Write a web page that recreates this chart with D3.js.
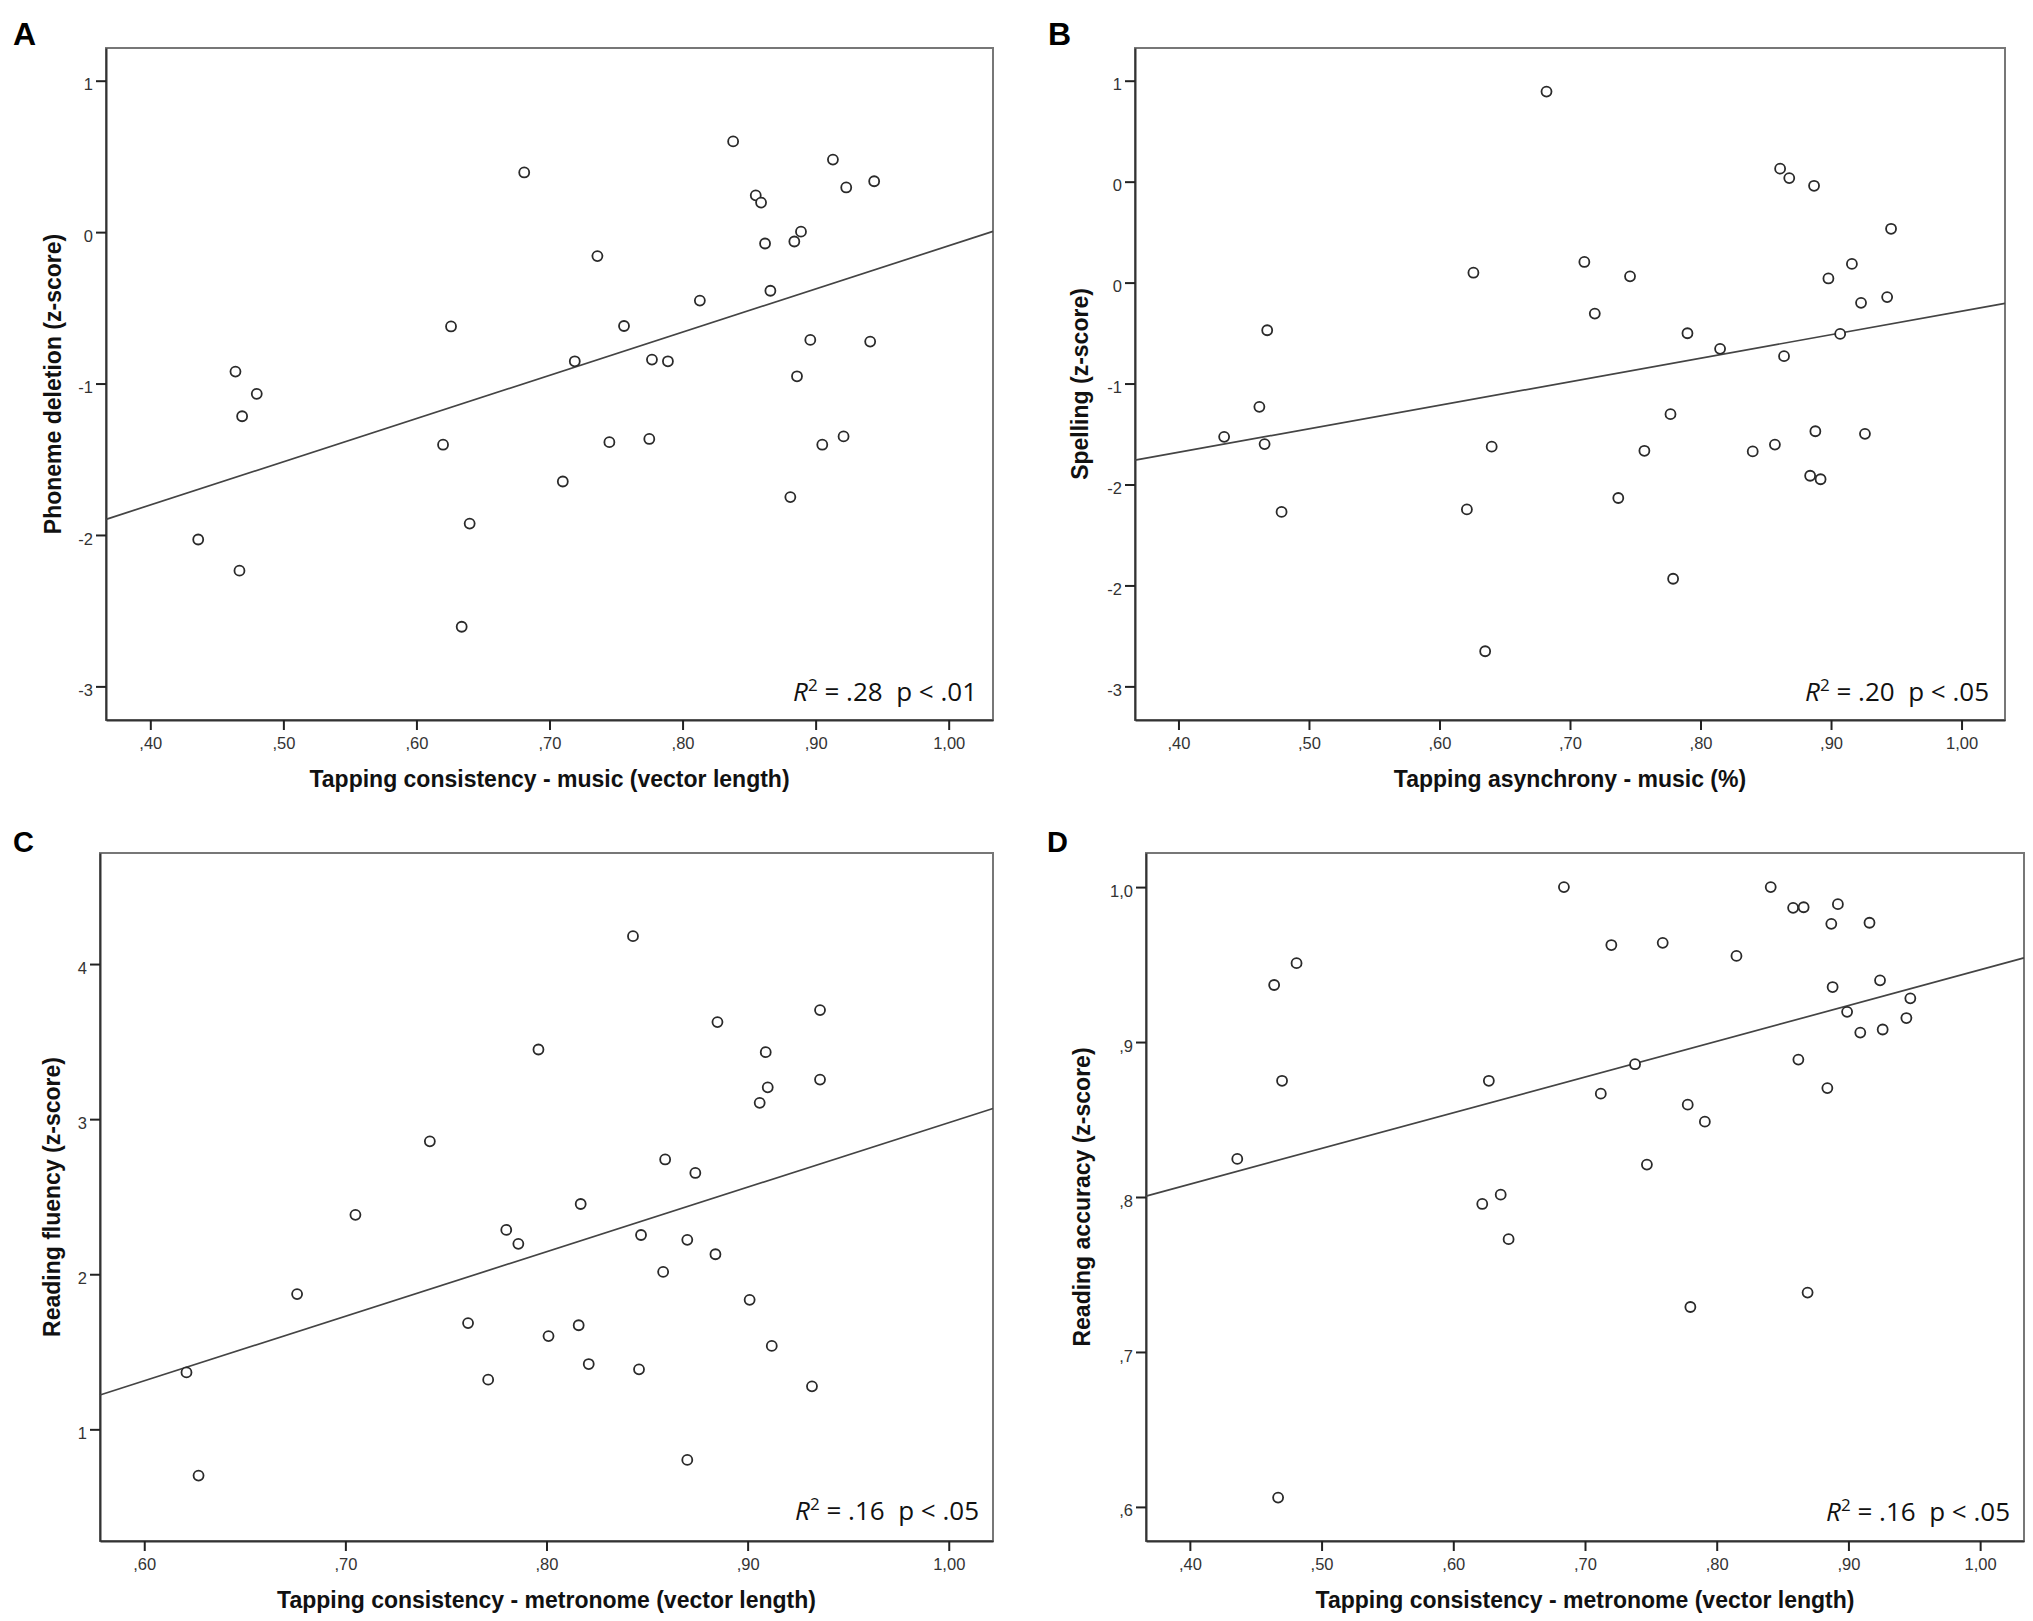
<!DOCTYPE html>
<html>
<head>
<meta charset="utf-8">
<script src="https://cdn.jsdelivr.net/npm/d3@7/dist/d3.min.js"></script>
<style>
    body { margin: 0; background: #fff; }
    .tick text { font-family: "Liberation Sans", Arial, sans-serif; font-size: 16.5px; fill: #333; }
    .tick line { stroke: #222; stroke-width: 2px; }
    .domain { stroke: #333; stroke-width: 2px; }
    .frame { fill: none; stroke: #777; stroke-width: 2px; }
    .dot { fill: #fff; stroke: #2a2a2a; stroke-width: 1.8px; }
    .fit { stroke: #444; stroke-width: 1.7px; fill: none; }
    .title { font-family: "Liberation Sans", Arial, sans-serif; font-weight: bold; font-size: 23px; fill: #111; }
    .letter { font-family: "Liberation Sans", Arial, sans-serif; font-weight: bold; fill: #000; }
    .stat { font-family: "Open Sans", Lato, sans-serif; font-size: 26px; fill: #111; white-space: pre; }
</style>
</head>
<body>
<svg id="fig"></svg>
<script>
// panel A: phoneme deletion vs tapping consistency (music)
var aX = [0.436, 0.467, 0.464, 0.469, 0.480, 0.620, 0.626, 0.634, 0.640, 0.681, 0.710, 0.719,
    0.736, 0.745, 0.756, 0.775, 0.777, 0.789, 0.813, 0.838, 0.855, 0.859, 0.862, 0.866,
    0.881, 0.884, 0.889, 0.886, 0.896, 0.905, 0.913, 0.921, 0.923, 0.941, 0.944];
var aY = [-2.03, -2.236, -0.921, -1.216, -1.068, -1.404, -0.623, -2.606, -1.925, 0.394, -1.647, -0.853,
    -0.158, -1.387, -0.62, -1.366, -0.842, -0.853, -0.452, 0.599, 0.243, 0.195, -0.075, -0.387,
    -1.75, -0.062, 0.003, -0.952, -0.712, -1.404, 0.479, -1.349, 0.295, -0.723, 0.336];

// panel B: spelling vs tapping asynchrony (music)
var bX = [0.682, 0.861, 0.868, 0.887, 0.946, 0.711, 0.626, 0.746, 0.916, 0.898, 0.943, 0.923,
    0.719, 0.468, 0.790, 0.907, 0.815, 0.864, 0.462, 0.777, 0.435, 0.888, 0.926, 0.466,
    0.857, 0.640, 0.757, 0.840, 0.884, 0.892, 0.737, 0.621, 0.479, 0.779, 0.635];
var bY = [0.928, 0.419, 0.357, 0.306, 0.022, -0.197, -0.268, -0.292, -0.210, -0.306, -0.429, -0.467,
    -0.538, -0.648, -0.668, -0.672, -0.771, -0.819, -1.154, -1.202, -1.352, -1.315, -1.332, -1.40,
    -1.403, -1.417, -1.444, -1.448, -1.609, -1.632, -1.756, -1.831, -1.848, -2.289, -2.768];

// panel C: reading fluency vs tapping consistency (metronome)
var cX = [0.843, 0.936, 0.885, 0.796, 0.909, 0.936, 0.910, 0.906, 0.742, 0.859, 0.874, 0.817,
    0.705, 0.780, 0.786, 0.847, 0.870, 0.884, 0.858, 0.676, 0.901, 0.761, 0.816, 0.801,
    0.912, 0.821, 0.846, 0.621, 0.771, 0.932, 0.870, 0.627];
var cY = [4.18, 3.703, 3.626, 3.449, 3.432, 3.255, 3.205, 3.105, 2.857, 2.74, 2.653, 2.453,
    2.383, 2.286, 2.196, 2.253, 2.222, 2.129, 2.015, 1.872, 1.835, 1.685, 1.671, 1.601,
    1.538, 1.421, 1.387, 1.367, 1.32, 1.277, 0.803, 0.702];

// panel D: reading accuracy vs tapping consistency (metronome)
var dX = [0.684, 0.841, 0.858, 0.866, 0.892, 0.887, 0.916, 0.720, 0.759, 0.815, 0.481, 0.464,
    0.924, 0.888, 0.947, 0.899, 0.944, 0.909, 0.926, 0.738, 0.862, 0.470, 0.627, 0.884,
    0.712, 0.778, 0.791, 0.436, 0.747, 0.636, 0.622, 0.642, 0.869, 0.780, 0.467];
var dY = [1.0, 1.0, 0.9866, 0.987, 0.989, 0.9763, 0.977, 0.9626, 0.964, 0.9556, 0.9509, 0.9368,
    0.9398, 0.9355, 0.9282, 0.9195, 0.9155, 0.9061, 0.9081, 0.8857, 0.8887, 0.875, 0.875, 0.8703,
    0.8667, 0.8596, 0.8486, 0.8246, 0.8209, 0.8015, 0.7955, 0.7728, 0.7383, 0.729, 0.606];

// linear fit lines, one per panel (A, B, C, D)
var fitIntercept = [-2.943, -2.076, -1.183, 0.716];
var fitSlope = [2.853, 1.554, 4.16, 0.2306];

// axis ranges and ticks
var xDomainWide = [0.3667, 1.0333];
var xDomainC = [0.578, 1.022];
var zDomain = [-3.222, 1.216];
var yDomainC = [0.28, 4.716];
var yDomainD = [0.578, 1.022];

var xTicksWide = [0.4, 0.5, 0.6, 0.7, 0.8, 0.9, 1.0];
var xTickLabelsWide = [",40", ",50", ",60", ",70", ",80", ",90", "1,00"];
var xTicksC = [0.6, 0.7, 0.8, 0.9, 1.0];
var xTickLabelsC = [",60", ",70", ",80", ",90", "1,00"];
var yTicksA = [1, 0, -1, -2, -3];
var yTickLabelsA = ["1", "0", "-1", "-2", "-3"];
var yTicksB = [1, 0.3333, -0.3333, -1, -1.6667, -2.3333, -3];
var yTickLabelsB = ["1", "0", "0", "-1", "-2", "-2", "-3"];
var yTicksC = [1, 2, 3, 4];
var yTickLabelsC = ["1", "2", "3", "4"];
var yTicksD = [0.6, 0.7, 0.8, 0.9, 1.0];
var yTickLabelsD = [",6", ",7", ",8", ",9", "1,0"];

var panelLetters = ["A", "B", "C", "D"];
var xTitles = ["Tapping consistency - music (vector length)",
    "Tapping asynchrony - music (%)",
    "Tapping consistency - metronome (vector length)",
    "Tapping consistency - metronome (vector length)"];
var yTitles = ["Phoneme deletion (z-score)", "Spelling (z-score)",
    "Reading fluency (z-score)", "Reading accuracy (z-score)"];
var r2Values = [".28", ".20", ".16", ".16"];
var pValues = ["< .01", "< .05", "< .05", "< .05"];

// layout of each panel on the page
var boxes = [
    {x0: 106, x1: 993, y0: 48, y1: 720, letterX: 13, letterY: 45, letterSize: 32, yTitleX: 61, statDx: 16, statDy: 19},
    {x0: 1135, x1: 2005, y0: 48, y1: 720, letterX: 1048, letterY: 45, letterSize: 32, yTitleX: 1088, statDx: 16, statDy: 19},
    {x0: 100, x1: 993, y0: 853, y1: 1541, letterX: 13, letterY: 852, letterSize: 29, yTitleX: 60, statDx: 14, statDy: 21},
    {x0: 1146, x1: 2024, y0: 853, y1: 1541, letterX: 1047, letterY: 852, letterSize: 29, yTitleX: 1090, statDx: 14, statDy: 20}
];

var panels = [
    {xs: aX, ys: aY, xDomain: xDomainWide, yDomain: zDomain, xTicks: xTicksWide, xLabels: xTickLabelsWide, yTicks: yTicksA, yLabels: yTickLabelsA},
    {xs: bX, ys: bY, xDomain: xDomainWide, yDomain: zDomain, xTicks: xTicksWide, xLabels: xTickLabelsWide, yTicks: yTicksB, yLabels: yTickLabelsB},
    {xs: cX, ys: cY, xDomain: xDomainC, yDomain: yDomainC, xTicks: xTicksC, xLabels: xTickLabelsC, yTicks: yTicksC, yLabels: yTickLabelsC},
    {xs: dX, ys: dY, xDomain: xDomainWide, yDomain: yDomainD, xTicks: xTicksWide, xLabels: xTickLabelsWide, yTicks: yTicksD, yLabels: yTickLabelsD}
];

var svg = d3.select("#fig")
    .attr("width", 2033)
    .attr("height", 1621);

function drawPanel(p, box, i) {
    var xScale = d3.scaleLinear().domain(p.xDomain).range([box.x0, box.x1]);
    var yScale = d3.scaleLinear().domain(p.yDomain).range([box.y1, box.y0]);

    var g = svg.append("g").attr("class", "panel");

    // grey frame on top/right, dark axis lines on left/bottom
    g.append("rect")
        .attr("class", "frame")
        .attr("x", box.x0)
        .attr("y", box.y0)
        .attr("width", box.x1 - box.x0)
        .attr("height", box.y1 - box.y0);

    var xAxis = d3.axisBottom(xScale)
        .tickValues(p.xTicks)
        .tickFormat(function (d, j) { return p.xLabels[j]; })
        .tickSizeInner(10)
        .tickSizeOuter(0)
        .tickPadding(7);

    var yAxis = d3.axisLeft(yScale)
        .tickValues(p.yTicks)
        .tickFormat(function (d, j) { return p.yLabels[j]; })
        .tickSizeInner(10)
        .tickSizeOuter(0)
        .tickPadding(3);

    g.append("g")
        .attr("transform", "translate(0," + box.y1 + ")")
        .call(xAxis);

    g.append("g")
        .attr("transform", "translate(" + box.x0 + ",0)")
        .call(yAxis)
        .selectAll(".tick text")
        .attr("dy", "0.55em");

    // fit line across the whole x range
    var ends = p.xDomain.map(function (x) {
        return [x, fitIntercept[i] + fitSlope[i] * x];
    });
    g.append("path")
        .attr("class", "fit")
        .attr("d", d3.line()
            .x(function (d) { return xScale(d[0]); })
            .y(function (d) { return yScale(d[1]); })(ends));

    g.selectAll(".dot")
        .data(p.xs.map(function (x, j) { return [x, p.ys[j]]; }))
        .enter().append("circle")
        .attr("class", "dot")
        .attr("r", 5)
        .attr("cx", function (d) { return xScale(d[0]); })
        .attr("cy", function (d) { return yScale(d[1]); });

    // titles
    g.append("text")
        .attr("class", "title")
        .attr("x", (box.x0 + box.x1) / 2)
        .attr("y", box.y1 + 67)
        .style("text-anchor", "middle")
        .text(xTitles[i]);

    g.append("text")
        .attr("class", "title")
        .attr("transform", "translate(" + box.yTitleX + "," + ((box.y0 + box.y1) / 2) + ") rotate(-90)")
        .style("text-anchor", "middle")
        .text(yTitles[i]);

    g.append("text")
        .attr("class", "letter")
        .attr("x", box.letterX)
        .attr("y", box.letterY)
        .style("font-size", box.letterSize + "px")
        .text(panelLetters[i]);

    // R squared note
    var stat = g.append("text")
        .attr("class", "stat")
        .attr("x", box.x1 - box.statDx)
        .attr("y", box.y1 - box.statDy)
        .style("text-anchor", "end");
    stat.append("tspan").style("font-style", "italic").text("R");
    stat.append("tspan").attr("dy", -10).style("font-size", "17px").text("2");
    stat.append("tspan").attr("dy", 10).text(" = " + r2Values[i] + "  p " + pValues[i]);
}

panels.forEach(function (p, i) {
    drawPanel(p, boxes[i], i);
});
</script>
</body>
</html>
